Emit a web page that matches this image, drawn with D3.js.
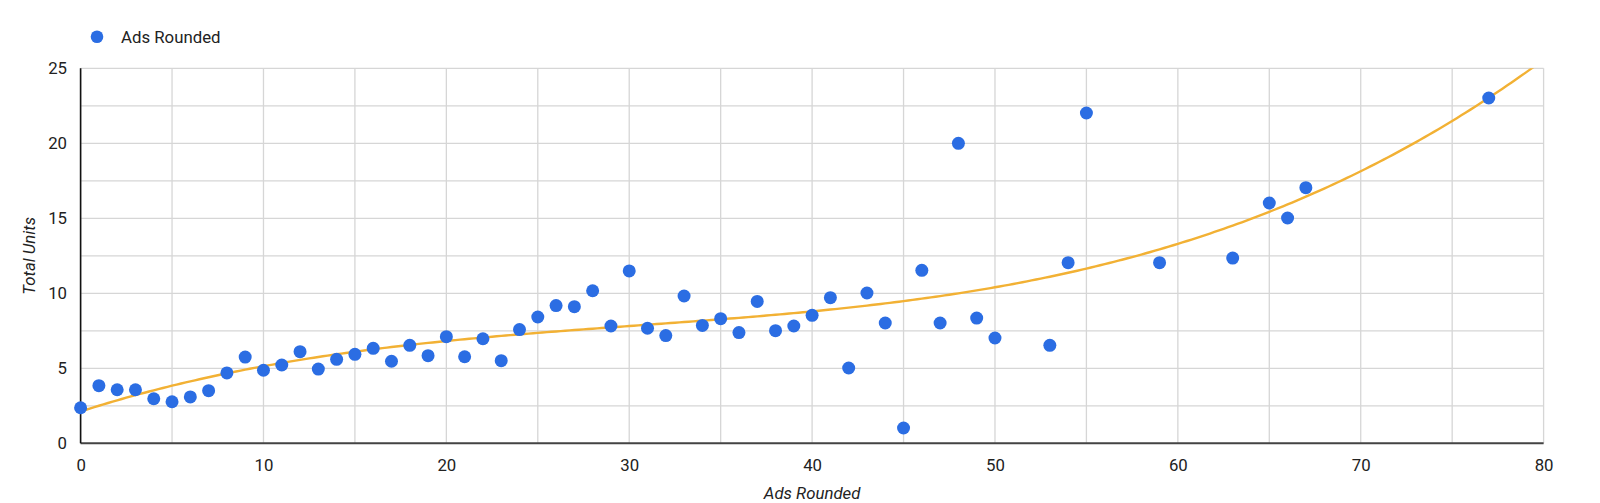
<!DOCTYPE html>
<html>
<head>
<meta charset="utf-8">
<script src="https://cdn.jsdelivr.net/npm/d3@7"></script>
<style>
  html, body { margin: 0; padding: 0; background: #fff; }
  svg { display: block; font-family: Roboto, "Noto Sans", Arial, sans-serif; }
</style>
</head>
<body>
<svg id="chart" width="1600" height="503"></svg>
<script>
// ---- data ----
const seriesName = "Ads Rounded";
const xTitle = "Ads Rounded";
const yTitle = "Total Units";
const adsRounded = [0,1,2,3,4,5,6,7,8,9,10,11,12,13,14,15,16,17,18,19,20,21,22,23,24,25,26,27,28,29,30,31,32,33,34,35,36,37,38,39,40,41,42,43,44,45,46,47,48,49,50,53,54,55,59,63,65,66,67,77];
const totalUnits = [2.37,3.84,3.57,3.57,2.97,2.77,3.09,3.51,4.69,5.75,4.87,5.22,6.11,4.95,5.6,5.93,6.33,5.47,6.53,5.84,7.11,5.77,6.97,5.51,7.58,8.42,9.18,9.11,10.17,7.82,11.49,7.67,7.18,9.82,7.86,8.31,7.38,9.46,7.51,7.82,8.53,9.71,5.02,10.02,8.02,1.02,11.53,8.02,20.0,8.35,7.02,6.53,12.04,22.02,12.04,12.35,16.02,15.02,17.04,23.02];
const xTickLabels = [0,10,20,30,40,50,60,70,80];
const yTickLabels = [0,5,10,15,20,25];
const xGrid = d3.range(0, 81, 5);
const yGrid = d3.range(0, 25.01, 2.5);

const points = adsRounded.map((v, i) => ({ x: v, y: totalUnits[i] }));

// ---- layout ----
const svg = d3.select("#chart");
const pLeft = 80.6, pRight = 1543.6, pTop = 68.3, pBottom = 443.3;
const x = d3.scaleLinear().domain([0, 80]).range([pLeft, pRight]);
const y = d3.scaleLinear().domain([0, 25]).range([pBottom, pTop]);

const textColor = "#222";
const dotColor = "#2b6de3";
const trendColor = "#f2b134";
const fontSize = 16.8;

// grid
svg.append("g").selectAll("line").data(xGrid).join("line")
  .attr("x1", d => x(d)).attr("x2", d => x(d))
  .attr("y1", pTop).attr("y2", pBottom)
  .attr("stroke", "#d6d6d6").attr("stroke-width", 1.3);
svg.append("g").selectAll("line").data(yGrid).join("line")
  .attr("x1", pLeft).attr("x2", pRight)
  .attr("y1", d => y(d)).attr("y2", d => y(d))
  .attr("stroke", "#d6d6d6").attr("stroke-width", 1.3);

// axes (library axes for labels, domain/ticks hidden)
const xAxis = d3.axisBottom(x).tickValues(xTickLabels).tickSize(0).tickPadding(15.5);
const gx = svg.append("g").attr("transform", `translate(0,${pBottom})`).call(xAxis);
gx.select(".domain").remove();
gx.selectAll("text").attr("font-size", fontSize).attr("fill", textColor)
  .attr("font-family", "Roboto, sans-serif");

const yAxis = d3.axisLeft(y).tickValues(yTickLabels).tickSize(0).tickPadding(13.6);
const gy = svg.append("g").attr("transform", `translate(${pLeft},0)`).call(yAxis);
gy.select(".domain").remove();
gy.selectAll("text").attr("font-size", fontSize).attr("fill", textColor)
  .attr("font-family", "Roboto, sans-serif");

// baseline axis lines
svg.append("line").attr("x1", pLeft).attr("x2", pRight).attr("y1", pBottom).attr("y2", pBottom)
  .attr("stroke", "#444").attr("stroke-width", 2);
svg.append("line").attr("x1", pLeft).attr("x2", pLeft).attr("y1", pTop).attr("y2", pBottom)
  .attr("stroke", "#111").attr("stroke-width", 1.6);

// ---- polynomial (cubic) trendline, least squares ----
function polyFit(xs, ys, deg) {
  const n = deg + 1;
  const A = Array.from({ length: n }, () => new Array(n + 1).fill(0));
  for (let r = 0; r < n; r++) {
    for (let c = 0; c < n; c++) A[r][c] = d3.sum(xs, v => Math.pow(v, r + c));
    A[r][n] = d3.sum(xs, (v, i) => ys[i] * Math.pow(v, r));
  }
  for (let i = 0; i < n; i++) {
    let p = i;
    for (let k = i + 1; k < n; k++) if (Math.abs(A[k][i]) > Math.abs(A[p][i])) p = k;
    [A[i], A[p]] = [A[p], A[i]];
    for (let k = i + 1; k < n; k++) {
      const f = A[k][i] / A[i][i];
      for (let j = i; j <= n; j++) A[k][j] -= f * A[i][j];
    }
  }
  const coef = new Array(n).fill(0);
  for (let i = n - 1; i >= 0; i--) {
    let s = A[i][n];
    for (let j = i + 1; j < n; j++) s -= A[i][j] * coef[j];
    coef[i] = s / A[i][i];
  }
  return coef;
}
const coef = polyFit(adsRounded, totalUnits, 3);
const trend = d3.range(0, 80.01, 0.25).map(v => ({ x: v, y: coef.reduce((s, c, i) => s + c * Math.pow(v, i), 0) }));

svg.append("clipPath").attr("id", "plotClip").append("rect")
  .attr("x", pLeft).attr("y", pTop).attr("width", pRight - pLeft).attr("height", pBottom - pTop);

svg.append("path").datum(trend)
  .attr("clip-path", "url(#plotClip)")
  .attr("fill", "none").attr("stroke", trendColor).attr("stroke-width", 2.4)
  .attr("d", d3.line().x(d => x(d.x)).y(d => y(d.y)));

// points
svg.append("g").selectAll("circle").data(points).join("circle")
  .attr("cx", d => x(d.x)).attr("cy", d => y(d.y)).attr("r", 6.5)
  .attr("fill", dotColor);

// legend
svg.append("circle").attr("cx", 97).attr("cy", 36.7).attr("r", 6.3).attr("fill", dotColor);
svg.append("text").attr("x", 121).attr("y", 42.8).attr("font-size", fontSize).attr("fill", textColor)
  .text(seriesName);

// axis titles
svg.append("text").attr("x", (pLeft + pRight) / 2).attr("y", 499).attr("text-anchor", "middle")
  .attr("font-size", fontSize).attr("font-style", "italic").attr("fill", textColor).text(xTitle);
svg.append("text").attr("transform", `translate(35,${(pTop + pBottom) / 2}) rotate(-90)`)
  .attr("text-anchor", "middle").attr("font-size", fontSize).attr("font-style", "italic")
  .attr("fill", textColor).text(yTitle);
</script>
</body>
</html>
